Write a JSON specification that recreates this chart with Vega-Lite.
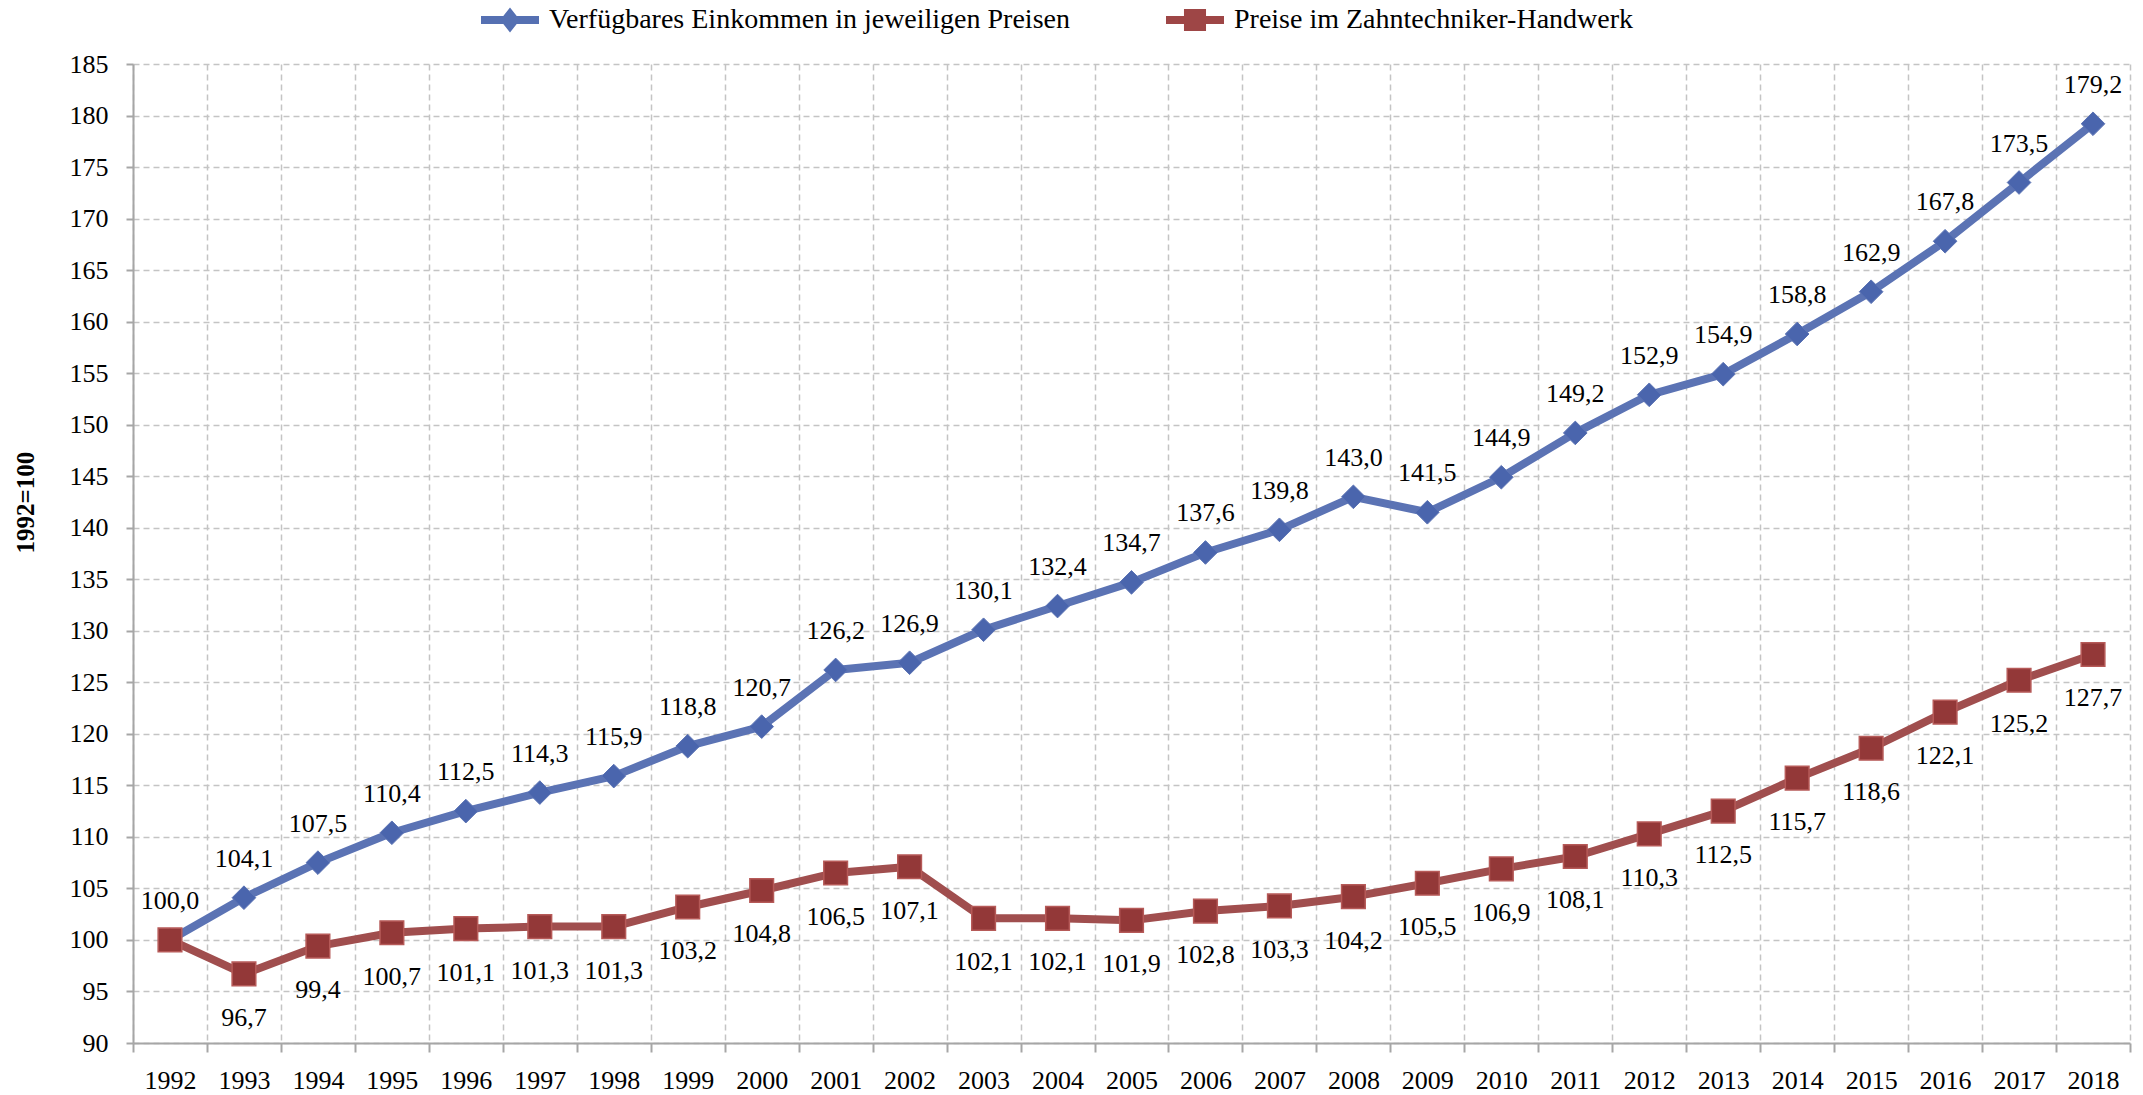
{
  "$schema": "https://vega.github.io/schema/vega-lite/v6.json",
  "autosize": "none",
  "width": 1997,
  "height": 979,
  "padding": {"left": 133, "top": 64, "right": 13, "bottom": 52},
  "background": "white",
  "config": {
    "view": {"stroke": null},
    "font": "Liberation Serif",
    "locale": {"number": {"decimal": ",", "thousands": ".", "grouping": [3], "currency": ["", " €"]}}
  },
  "data": {
    "values": [
      {"year": "1992", "series": "Verfügbares Einkommen in jeweiligen Preisen", "value": 100.0},
      {"year": "1993", "series": "Verfügbares Einkommen in jeweiligen Preisen", "value": 104.1},
      {"year": "1994", "series": "Verfügbares Einkommen in jeweiligen Preisen", "value": 107.5},
      {"year": "1995", "series": "Verfügbares Einkommen in jeweiligen Preisen", "value": 110.4},
      {"year": "1996", "series": "Verfügbares Einkommen in jeweiligen Preisen", "value": 112.5},
      {"year": "1997", "series": "Verfügbares Einkommen in jeweiligen Preisen", "value": 114.3},
      {"year": "1998", "series": "Verfügbares Einkommen in jeweiligen Preisen", "value": 115.9},
      {"year": "1999", "series": "Verfügbares Einkommen in jeweiligen Preisen", "value": 118.8},
      {"year": "2000", "series": "Verfügbares Einkommen in jeweiligen Preisen", "value": 120.7},
      {"year": "2001", "series": "Verfügbares Einkommen in jeweiligen Preisen", "value": 126.2},
      {"year": "2002", "series": "Verfügbares Einkommen in jeweiligen Preisen", "value": 126.9},
      {"year": "2003", "series": "Verfügbares Einkommen in jeweiligen Preisen", "value": 130.1},
      {"year": "2004", "series": "Verfügbares Einkommen in jeweiligen Preisen", "value": 132.4},
      {"year": "2005", "series": "Verfügbares Einkommen in jeweiligen Preisen", "value": 134.7},
      {"year": "2006", "series": "Verfügbares Einkommen in jeweiligen Preisen", "value": 137.6},
      {"year": "2007", "series": "Verfügbares Einkommen in jeweiligen Preisen", "value": 139.8},
      {"year": "2008", "series": "Verfügbares Einkommen in jeweiligen Preisen", "value": 143.0},
      {"year": "2009", "series": "Verfügbares Einkommen in jeweiligen Preisen", "value": 141.5},
      {"year": "2010", "series": "Verfügbares Einkommen in jeweiligen Preisen", "value": 144.9},
      {"year": "2011", "series": "Verfügbares Einkommen in jeweiligen Preisen", "value": 149.2},
      {"year": "2012", "series": "Verfügbares Einkommen in jeweiligen Preisen", "value": 152.9},
      {"year": "2013", "series": "Verfügbares Einkommen in jeweiligen Preisen", "value": 154.9},
      {"year": "2014", "series": "Verfügbares Einkommen in jeweiligen Preisen", "value": 158.8},
      {"year": "2015", "series": "Verfügbares Einkommen in jeweiligen Preisen", "value": 162.9},
      {"year": "2016", "series": "Verfügbares Einkommen in jeweiligen Preisen", "value": 167.8},
      {"year": "2017", "series": "Verfügbares Einkommen in jeweiligen Preisen", "value": 173.5},
      {"year": "2018", "series": "Verfügbares Einkommen in jeweiligen Preisen", "value": 179.2},
      {"year": "1992", "series": "Preise im Zahntechniker-Handwerk", "value": 100.0},
      {"year": "1993", "series": "Preise im Zahntechniker-Handwerk", "value": 96.7},
      {"year": "1994", "series": "Preise im Zahntechniker-Handwerk", "value": 99.4},
      {"year": "1995", "series": "Preise im Zahntechniker-Handwerk", "value": 100.7},
      {"year": "1996", "series": "Preise im Zahntechniker-Handwerk", "value": 101.1},
      {"year": "1997", "series": "Preise im Zahntechniker-Handwerk", "value": 101.3},
      {"year": "1998", "series": "Preise im Zahntechniker-Handwerk", "value": 101.3},
      {"year": "1999", "series": "Preise im Zahntechniker-Handwerk", "value": 103.2},
      {"year": "2000", "series": "Preise im Zahntechniker-Handwerk", "value": 104.8},
      {"year": "2001", "series": "Preise im Zahntechniker-Handwerk", "value": 106.5},
      {"year": "2002", "series": "Preise im Zahntechniker-Handwerk", "value": 107.1},
      {"year": "2003", "series": "Preise im Zahntechniker-Handwerk", "value": 102.1},
      {"year": "2004", "series": "Preise im Zahntechniker-Handwerk", "value": 102.1},
      {"year": "2005", "series": "Preise im Zahntechniker-Handwerk", "value": 101.9},
      {"year": "2006", "series": "Preise im Zahntechniker-Handwerk", "value": 102.8},
      {"year": "2007", "series": "Preise im Zahntechniker-Handwerk", "value": 103.3},
      {"year": "2008", "series": "Preise im Zahntechniker-Handwerk", "value": 104.2},
      {"year": "2009", "series": "Preise im Zahntechniker-Handwerk", "value": 105.5},
      {"year": "2010", "series": "Preise im Zahntechniker-Handwerk", "value": 106.9},
      {"year": "2011", "series": "Preise im Zahntechniker-Handwerk", "value": 108.1},
      {"year": "2012", "series": "Preise im Zahntechniker-Handwerk", "value": 110.3},
      {"year": "2013", "series": "Preise im Zahntechniker-Handwerk", "value": 112.5},
      {"year": "2014", "series": "Preise im Zahntechniker-Handwerk", "value": 115.7},
      {"year": "2015", "series": "Preise im Zahntechniker-Handwerk", "value": 118.6},
      {"year": "2016", "series": "Preise im Zahntechniker-Handwerk", "value": 122.1},
      {"year": "2017", "series": "Preise im Zahntechniker-Handwerk", "value": 125.2},
      {"year": "2018", "series": "Preise im Zahntechniker-Handwerk", "value": 127.7}
    ]
  },
  "encoding": {
    "x": {
      "field": "year", "type": "ordinal", "bandPosition": 0.5,
      "scale": {"type": "band", "paddingInner": 0, "paddingOuter": 0},
      "axis": {
        "title": null, "labelAngle": 0, "tickBand": "extent",
        "labelFont": "Liberation Serif", "labelFontSize": 26, "labelColor": "#000000", "labelPadding": 15,
        "domainColor": "#a6a6a6", "domainWidth": 2, "tickColor": "#a6a6a6", "tickWidth": 2, "tickSize": 9,
        "grid": true, "gridColor": "#c4c4c4", "gridDash": [6, 4], "gridWidth": 1.5
      }
    },
    "y": {
      "field": "value", "type": "quantitative",
      "scale": {"domain": [90, 185], "nice": false, "zero": false},
      "axis": {
        "title": "1992=100", "titleFont": "Liberation Serif", "titleFontSize": 25, "titleFontWeight": "bold", "titleColor": "#000000",
        "titleAngle": -90, "titleX": -108, "titleY": 438, "titleAlign": "center", "titleBaseline": "middle",
        "values": [90, 95, 100, 105, 110, 115, 120, 125, 130, 135, 140, 145, 150, 155, 160, 165, 170, 175, 180, 185],
        "labelFont": "Liberation Serif", "labelFontSize": 26, "labelColor": "#000000", "labelPadding": 18,
        "domainColor": "#a6a6a6", "domainWidth": 2, "tickColor": "#a6a6a6", "tickWidth": 2, "tickSize": 7,
        "grid": true, "gridColor": "#c4c4c4", "gridDash": [6, 4], "gridWidth": 1.5
      }
    }
  },
  "layer": [
    {
      "transform": [{"filter": "datum.series == 'Verfügbares Einkommen in jeweiligen Preisen'"}],
      "mark": {"type": "line", "strokeWidth": 8, "strokeCap": "round", "strokeJoin": "round"},
      "encoding": {
        "color": {
          "field": "series", "type": "nominal",
          "scale": {"domain": ["Verfügbares Einkommen in jeweiligen Preisen", "Preise im Zahntechniker-Handwerk"], "range": ["#5b73b4", "#a04e4e"]},
          "legend": {
            "title": null, "orient": "none", "legendX": 348, "legendY": -73, "direction": "horizontal",
            "symbolSize": 3364, "labelFont": "Liberation Serif", "labelFontSize": 28, "labelColor": "#000000",
            "labelOffset": 10, "columnPadding": 96, "labelLimit": 1000, "padding": 0,
            "encode": {
              "symbols": {
                "update": {
                  "shape": {"signal": "datum.value == 'Preise im Zahntechniker-Handwerk' ? 'M-1,-0.14L1,-0.14L1,0.14L-1,0.14ZM-0.38,-0.38L0.38,-0.38L0.38,0.38L-0.38,0.38Z' : 'M-1,-0.14L1,-0.14L1,0.14L-1,0.14ZM0,-0.43L0.34,0L0,0.43L-0.34,0Z'"},
                  "fill": {"signal": "datum.value == 'Preise im Zahntechniker-Handwerk' ? '#9e4646' : '#5570b2'"},
                  "stroke": {"value": "transparent"},
                  "strokeWidth": {"value": 0},
                  "opacity": {"value": 1},
                  "fillOpacity": {"value": 1}
                }
              }
            }
          }
        }
      }
    },
    {
      "transform": [{"filter": "datum.series == 'Verfügbares Einkommen in jeweiligen Preisen'"}],
      "mark": {"type": "point", "shape": "diamond", "size": 560, "filled": true, "fill": "#4a65ad", "stroke": "#5b73b4", "strokeWidth": 1, "opacity": 1}
    },
    {
      "transform": [{"filter": "datum.series == 'Preise im Zahntechniker-Handwerk'"}],
      "mark": {"type": "line", "strokeWidth": 8, "strokeCap": "round", "strokeJoin": "round"},
      "encoding": {
        "color": {"field": "series", "type": "nominal"}
      }
    },
    {
      "transform": [{"filter": "datum.series == 'Preise im Zahntechniker-Handwerk'"}],
      "mark": {"type": "point", "shape": "square", "size": 560, "filled": true, "fill": "#933838", "stroke": "#b65a58", "strokeWidth": 1.5, "opacity": 1}
    },
    {
      "transform": [{"filter": "datum.series == 'Verfügbares Einkommen in jeweiligen Preisen'"}],
      "mark": {"type": "text", "dy": -39, "baseline": "middle", "align": "center", "font": "Liberation Serif", "fontSize": 26, "color": "#000000"},
      "encoding": {"text": {"field": "value", "type": "quantitative", "format": ".1f"}}
    },
    {
      "transform": [{"filter": "datum.series == 'Preise im Zahntechniker-Handwerk' && datum.year != '1992'"}],
      "mark": {"type": "text", "dy": 44, "baseline": "middle", "align": "center", "font": "Liberation Serif", "fontSize": 26, "color": "#000000"},
      "encoding": {"text": {"field": "value", "type": "quantitative", "format": ".1f"}}
    }
  ]
}
